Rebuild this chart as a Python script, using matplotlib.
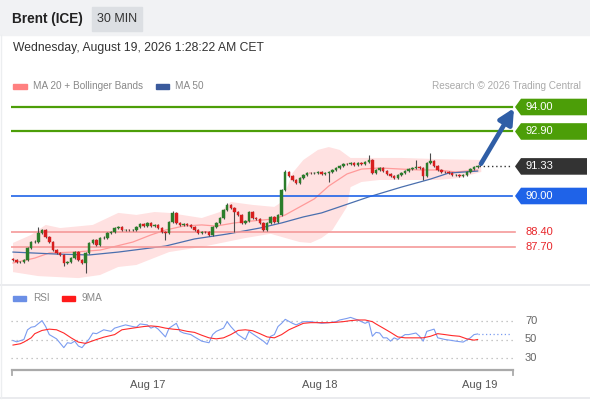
import numpy as np
import matplotlib.pyplot as plt
from matplotlib.patches import Polygon, Rectangle

plt.rcParams['font.family'] = ['Liberation Sans', 'DejaVu Sans']

# --- price data (30 min candles) ---
first_open = 87.17
closes = [87.12, 87.03, 87.03, 87.12, 87.66, 87.93, 87.95, 88.34, 88.47, 88.16,
          87.93, 87.57, 87.44, 87.35, 86.99, 87.03, 87.21, 87.48, 87.12, 86.99,
          87.44, 87.89, 88.02, 87.80, 88.11, 88.13, 88.34, 88.38, 88.56, 88.61,
          88.47, 88.48, 88.46, 88.47, 88.61, 88.74, 88.65, 88.79, 88.65, 88.70,
          88.56, 88.38, 88.34, 88.83, 89.24, 88.79, 88.70, 88.74, 88.70, 88.61,
          88.47, 88.34, 88.38, 88.37, 88.25, 88.61, 88.79, 89.01, 89.37, 89.60,
          89.46, 89.28, 89.15, 88.79, 88.88, 89.28, 89.01, 88.97, 88.79, 88.47,
          88.79, 89.06, 88.83, 89.15, 90.27, 91.08, 90.90, 90.72, 90.58, 90.81,
          90.94, 91.03, 91.02, 91.04, 91.08, 90.99, 91.03, 91.08, 91.17, 91.26,
          91.35, 91.44, 91.43, 91.48, 91.39, 91.48, 91.44, 91.53, 91.62, 91.03,
          91.17, 91.26, 91.12, 90.99, 90.90, 90.81, 90.94, 91.03, 91.12, 91.21,
          91.26, 91.30, 91.26, 90.90, 91.48, 91.57, 91.35, 91.17, 91.08, 91.07,
          91.03, 90.94, 90.95, 90.90, 90.94, 91.08, 91.21, 91.30, 91.33]
long_highs = {7: 88.61, 44: 89.33, 59: 89.69, 75: 91.17, 98: 91.84, 111: 91.62, 115: 91.93}
long_lows = {14: 86.85, 20: 86.54, 42: 88.02, 61: 88.38, 87: 90.63, 113: 90.72}
wick = 0.05

ma50_x = [0, 12, 21, 29, 42, 50, 59, 68, 74, 80, 85, 89, 98, 107, 115, 120, 128]
ma50_y = [87.48, 87.39, 87.35, 87.48, 87.75, 88.07, 88.29, 88.56, 88.79, 89.06,
          89.24, 89.46, 89.96, 90.40, 90.76, 91.03, 91.12]

ma20_x = [0, 6, 10, 17, 24, 33, 38, 42, 47, 52, 56, 61, 66, 72, 75, 79, 83, 87,
          92, 96, 101, 107, 112, 117, 122, 128]
ma20_y = [86.99, 87.21, 87.44, 87.48, 87.57, 87.93, 88.25, 88.47, 88.65, 88.70,
          88.65, 88.79, 88.88, 88.97, 89.15, 89.51, 89.87, 90.45, 90.99, 91.21,
          91.26, 91.21, 91.17, 91.17, 91.08, 91.17]

bb_up_x = [0, 5, 9, 13, 22, 29, 34, 39, 43, 52, 57, 60, 66, 72, 74, 77, 80, 84,
           87, 90, 93, 101, 107, 117, 129]
bb_up_y = [87.89, 88.25, 88.70, 88.56, 88.70, 89.24, 89.15, 89.28, 89.24, 89.01,
           89.28, 89.73, 89.60, 89.51, 89.73, 91.03, 91.62, 92.07, 92.20, 92.07,
           91.71, 91.71, 91.71, 91.66, 91.62]
bb_lo_x = [0, 7, 18, 24, 29, 34, 43, 52, 64, 71, 74, 79, 82, 85, 88, 92, 93, 96,
           101, 107, 117, 123, 129]
bb_lo_y = [86.58, 86.40, 86.31, 86.45, 86.81, 86.90, 87.48, 87.71, 88.11, 88.30,
           88.16, 87.93, 87.89, 88.11, 88.47, 89.51, 90.40, 90.63, 90.72, 90.72,
           90.72, 90.81, 91.08]

# --- levels ---
green_levels = [94.00, 92.90]
blue_level = 90.00
red_levels = [88.40, 87.70]
last_price = 91.33

# --- RSI panel ---
rsi_x = [0, 1, 3, 4, 5, 6, 8, 9, 10, 12, 14, 15, 16, 17, 18, 19, 21, 22, 23, 25,
         27, 28, 30, 31, 33, 34, 35, 37, 38, 39, 40, 42, 43, 45, 46, 47, 49, 50,
         52, 54, 55, 56, 58, 59, 60, 62, 64, 65, 67, 69, 70, 71, 72, 73, 74, 75,
         77, 78, 80, 82, 84, 85, 87, 89, 90, 92, 93, 95, 96, 97, 98, 99, 100, 101,
         102, 103, 104, 105, 106, 108, 109, 111, 112, 113, 114, 116, 117, 119, 121,
         122, 124, 126, 127, 128]
rsi_y = [48.9, 47.5, 50.0, 60.5, 63.3, 64.0, 70.4, 64.0, 55.3, 50.7, 41.2, 46.5,
         45.8, 48.2, 43.0, 41.2, 50.7, 57.0, 56.3, 60.5, 58.8, 62.3, 64.7, 65.8,
         64.0, 63.3, 66.8, 65.8, 62.3, 64.0, 61.2, 52.8, 62.3, 67.5, 58.8, 57.0,
         55.3, 52.8, 48.2, 46.5, 55.3, 58.8, 62.3, 69.3, 64.0, 55.3, 50.0, 58.8,
         53.5, 48.2, 44.7, 53.5, 55.3, 64.0, 67.5, 71.8, 67.5, 65.8, 69.3, 69.3,
         68.2, 67.5, 68.2, 69.3, 71.1, 72.8, 73.9, 71.1, 69.3, 67.5, 69.3, 53.5,
         57.7, 57.0, 51.8, 51.8, 48.2, 51.8, 50.0, 55.3, 55.3, 57.0, 53.5, 48.2,
         58.8, 61.2, 51.8, 50.0, 48.9, 48.2, 47.2, 51.8, 55.3, 56.0]
ma9_x = [0, 2, 3, 5, 6, 8, 10, 12, 14, 16, 18, 20, 21, 23, 25, 28, 30, 33, 36, 38,
         40, 42, 44, 46, 48, 50, 52, 54, 56, 58, 60, 62, 64, 66, 68, 70, 72, 74, 76,
         78, 80, 82, 85, 87, 89, 91, 93, 95, 97, 99, 100, 102, 104, 106, 108, 110,
         113, 115, 117, 119, 121, 123, 125, 127, 128]
ma9_y = [44.0, 45.4, 47.2, 51.8, 56.3, 59.8, 61.2, 60.5, 57.0, 51.8, 47.2, 45.8,
         47.2, 50.0, 52.5, 55.3, 60.5, 62.3, 64.0, 64.7, 64.0, 62.3, 61.2, 60.5,
         58.8, 57.7, 54.6, 51.8, 50.7, 51.8, 55.3, 59.8, 60.5, 59.5, 56.3, 52.8,
         51.8, 55.3, 60.5, 64.0, 67.5, 68.2, 68.2, 68.2, 68.6, 69.3, 70.4, 71.1,
         71.1, 69.3, 66.8, 62.3, 57.7, 52.8, 51.8, 51.8, 51.8, 53.5, 56.3, 55.3,
         54.2, 53.5, 50.7, 49.3, 50.0]
rsi_levels = [70, 50, 30]
day_ticks = [37, 84.5, 128.5]
day_labels = ["Aug 17", "Aug 18", "Aug 19"]

GREEN = "#4c9e08"
BLUE = "#1f63e8"
DARK = "#333333"
RED_LINE = "#f59a9a"
RED_TXT = "#e8262b"

W, H = 590, 400
fig = plt.figure(figsize=(W / 100, H / 100), dpi=100)


def fx(px):
    return px / W


def fy(py):
    return 1 - py / H


# header band
fig.patches.append(Rectangle((0, fy(35)), 1, 35 / H, transform=fig.transFigure,
                             color="#f1f2f4", zorder=0))
fig.patches.append(Rectangle((fx(92), fy(31)), 50 / W, 24 / H, transform=fig.transFigure,
                             color="#dcdfe3", zorder=1))
fig.text(fx(12), fy(19), "Brent (ICE)", fontsize=9.8, fontweight="bold", color="#222",
         va="center")
fig.text(fx(117), fy(19), "30 MIN", fontsize=9, color="#333", va="center", ha="center")
fig.text(fx(13), fy(48), "Wednesday, August 19, 2026 1:28:22 AM CET", fontsize=8.7,
         color="#333", va="center")
for py in (284.5, 397.5):
    fig.lines.append(plt.Line2D([0, 1], [fy(py), fy(py)], transform=fig.transFigure,
                                color="#e6e8eb", lw=1.2))
fig.lines.append(plt.Line2D([fx(0.5), fx(0.5)], [fy(35), fy(398)], transform=fig.transFigure,
                            color="#eceef0", lw=1))

# legends
fig.patches.append(Rectangle((fx(13), fy(88.5)), 14 / W, 5 / H, transform=fig.transFigure,
                             color="#ff8080"))
fig.text(fx(33), fy(86), "MA 20 + Bollinger Bands", fontsize=7.2, color="#888", va="center")
fig.patches.append(Rectangle((fx(156), fy(88.5)), 13 / W, 5 / H, transform=fig.transFigure,
                             color="#3a5a9c"))
fig.text(fx(175), fy(86), "MA 50", fontsize=7.2, color="#888", va="center")
fig.text(fx(581), fy(86), "Research \u00a9 2026 Trading Central", fontsize=7.2, color="#aaa",
         va="center", ha="right")
fig.patches.append(Rectangle((fx(13), fy(300.5)), 13 / W, 5 / H, transform=fig.transFigure,
                             color="#6b8fe6"))
fig.text(fx(33), fy(298), "RSI", fontsize=7.2, color="#888", va="center")
fig.patches.append(Rectangle((fx(62), fy(300.5)), 13 / W, 5 / H, transform=fig.transFigure,
                             color="#ff1a1a"))
fig.text(fx(82), fy(298), "9MA", fontsize=7.2, color="#888", va="center")

# --- main price axes ---
step = 3.63  # px per candle
x0 = 13
xlim = ((11 - x0) / step, (590 - x0) / step)
ax = fig.add_axes([fx(11), fy(283), fx(579), (283 - 62) / H])
ax.set_xlim(*xlim)
ax.set_ylim(90 + (196 - 283) / 22.25, 90 + (196 - 62) / 22.25)
ax.axis("off")

closes = np.array(closes)
opens = np.r_[first_open, closes[:-1]]
idx = np.arange(len(closes))
highs = np.maximum(opens, closes) + wick
lows = np.minimum(opens, closes) - wick
for k, v in long_highs.items():
    highs[k] = v
for k, v in long_lows.items():
    lows[k] = v

ax.fill(np.r_[bb_up_x, bb_lo_x[::-1]], np.r_[bb_up_y, bb_lo_y[::-1]],
        color="#ffe1e1", lw=0, zorder=1)
ax.plot(ma20_x, ma20_y, color="#ff9a9a", lw=0.9, zorder=2)
ax.plot(ma50_x, ma50_y, color="#4a6fae", lw=0.9, zorder=2)

line_end = (512 - x0) / step
for lv in green_levels:
    ax.plot([xlim[0], line_end], [lv, lv], color=GREEN, lw=1.6, zorder=3)
ax.plot([xlim[0], line_end], [blue_level, blue_level], color=BLUE, lw=1.2, zorder=3)
for lv in red_levels:
    ax.plot([xlim[0], (515 - x0) / step], [lv, lv], color=RED_LINE, lw=1.2, zorder=3)
    ax.text((525 - x0) / step, lv, f"{lv:.2f}", color=RED_TXT, fontsize=8, va="center")
ax.plot([idx[-1] + 0.5, line_end], [last_price, last_price], color=DARK, lw=1,
        ls=(0, (1, 2)), zorder=3)

ups = closes >= opens
cols = np.where(ups, "#2b7d2b", "#d81e1e")
ax.vlines(idx, lows, highs, color="#4a4a4a", lw=0.8, zorder=4)
ax.bar(idx, np.maximum(np.abs(closes - opens), 0.02), bottom=np.minimum(opens, closes),
       width=0.68, color=cols, edgecolor=cols, lw=0.3, zorder=5)

# price tags
tip = (515 - x0) / step
body = (521 - x0) / step
right = (587 - x0) / step
hh = 8.3 / 22.25
for lv, c in [(green_levels[0], GREEN), (green_levels[1], GREEN),
              (last_price, DARK), (blue_level, BLUE)]:
    ax.add_patch(Polygon([(tip, lv), (body, lv + hh), (right, lv + hh),
                          (right, lv - hh), (body, lv - hh)], closed=True,
                         color=c, lw=0, zorder=6))
    ax.text((525 - x0) / step, lv, f"{lv:.2f}", color="white", fontsize=8,
            va="center", zorder=7)

ax.annotate("", xy=((514 - x0) / step, 93.95), xytext=((481 - x0) / step, 91.45),
            arrowprops=dict(arrowstyle="-|>,head_length=0.9,head_width=0.45",
                            color="#2f5ea6", lw=3.4, shrinkA=0, shrinkB=0), zorder=8)

# --- RSI axes ---
rax = fig.add_axes([fx(11), fy(370), fx(579), (370 - 305) / H])
rax.set_xlim(*xlim)
px_per = (358 - 321) / 40
rax.set_ylim(30 - (370 - 358) / px_per, 70 + (321 - 305) / px_per)
for s in rax.spines.values():
    s.set_visible(False)
rax.set_yticks([])
for lv in rsi_levels:
    rax.plot([xlim[0], (515 - x0) / step], [lv, lv], color="#b5b5b5", lw=0.9,
             ls=(0, (1, 3)))
    rax.text((525 - x0) / step, lv, str(lv), color="#666", fontsize=8, va="center")
rax.plot(rsi_x, rsi_y, color="#7b9cf0", lw=0.8)
rax.plot([rsi_x[-1], (510 - x0) / step], [rsi_y[-1], rsi_y[-1]], color="#7b9cf0",
         lw=0.9, ls=(0, (1, 2)))
rax.plot(ma9_x, ma9_y, color="#ff2a2a", lw=0.8)

ax_end = (513 - x0) / step
ymin = rax.get_ylim()[0]
rax.plot([xlim[0] + 0.15, ax_end], [ymin, ymin], color="#aaaaaa", lw=1.6, clip_on=False)
for xe in (xlim[0] + 0.15, ax_end):
    rax.plot([xe, xe], [ymin, ymin - 5.5], color="#aaaaaa", lw=1.3, clip_on=False)
rax.set_xticks(day_ticks)
rax.set_xticklabels(day_labels, fontsize=8, color="#555")
rax.tick_params(axis="x", length=0, pad=7)

fig.savefig("out.png", dpi=100)
